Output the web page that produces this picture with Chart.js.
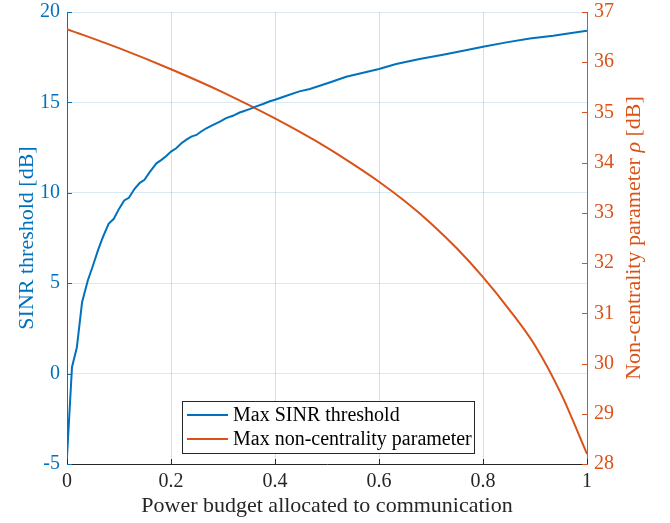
<!DOCTYPE html>
<html>
<head>
<meta charset="utf-8">
<script src="https://cdn.jsdelivr.net/npm/chart.js@4/dist/chart.umd.min.js"></script>
<style>
  body { margin: 0; background: #fff; }
  #wrap { width: 670px; height: 523px; }
</style>
</head>
<body>
<div id="wrap"><canvas id="chart" width="670" height="523"></canvas></div>
<script>
// power budget fraction (x) and max SINR threshold [dB]
const sinrX = [0, 0.0096, 0.019, 0.029, 0.04, 0.05, 0.06, 0.069, 0.08, 0.09, 0.1, 0.11, 0.119, 0.13, 0.14,
  0.149, 0.159, 0.172, 0.181, 0.191, 0.2, 0.21, 0.22, 0.229, 0.239, 0.249, 0.258, 0.268, 0.281, 0.294,
  0.306, 0.319, 0.332, 0.338, 0.351, 0.364, 0.377, 0.39, 0.4, 0.422, 0.447, 0.467, 0.505, 0.537, 0.6,
  0.633, 0.678, 0.723, 0.762, 0.8, 0.845, 0.89, 0.935, 0.967, 1.0];
const sinrY = [-4.6, 0.35, 1.46, 3.95, 5.15, 5.98, 6.86, 7.55, 8.28, 8.56, 9.11, 9.58, 9.72, 10.22, 10.55,
  10.72, 11.14, 11.63, 11.81, 12.04, 12.28, 12.46, 12.74, 12.93, 13.11, 13.2, 13.39, 13.57, 13.76, 13.94,
  14.13, 14.26, 14.44, 14.5, 14.63, 14.78, 14.91, 15.06, 15.15, 15.37, 15.61, 15.74, 16.1, 16.42, 16.85,
  17.12, 17.4, 17.64, 17.86, 18.08, 18.32, 18.54, 18.69, 18.82, 18.97];

// max non-centrality parameter rho [dB]
const rhoX = [0, 0.1, 0.2, 0.3, 0.4, 0.5, 0.55, 0.6, 0.65, 0.7, 0.75, 0.8, 0.85, 0.9, 0.95, 1.0];
const rhoY = [36.66, 36.28, 35.86, 35.4, 34.88, 34.3, 33.97, 33.62, 33.23, 32.79, 32.29, 31.72, 31.08, 30.36, 29.4, 28.2];

const xTicks = [0, 0.2, 0.4, 0.6, 0.8, 1];
const leftTicks = [-5, 0, 5, 10, 15, 20];
const rightTicks = [28, 29, 30, 31, 32, 33, 34, 35, 36, 37];

const BLUE = '#0072BD';
const ORANGE = '#D95319';
const DARK = '#262626';
const FONT = 'Liberation Serif';

const toPts = (xs, ys) => xs.map((x, i) => ({ x: x, y: ys[i] }));

// MATLAB style inward ticks, right axis title with italic rho, legend inside the axes
const matlabBits = {
  id: 'matlabBits',
  afterDraw(chart) {
    const ctx = chart.ctx;
    const a = chart.chartArea;
    const sx = chart.scales.x, sy = chart.scales.y, sy1 = chart.scales.y1;
    const len = 5;
    ctx.save();
    ctx.lineWidth = 1;
    ctx.strokeStyle = DARK;
    xTicks.forEach(v => {
      const px = Math.round(sx.getPixelForValue(v)) + 0.5;
      ctx.beginPath(); ctx.moveTo(px, a.bottom); ctx.lineTo(px, a.bottom - len); ctx.stroke();
    });
    ctx.strokeStyle = BLUE;
    leftTicks.forEach(v => {
      const py = Math.round(sy.getPixelForValue(v)) + 0.5;
      ctx.beginPath(); ctx.moveTo(a.left, py); ctx.lineTo(a.left + len, py); ctx.stroke();
    });
    ctx.strokeStyle = ORANGE;
    rightTicks.forEach(v => {
      const py = Math.round(sy1.getPixelForValue(v)) + 0.5;
      ctx.beginPath(); ctx.moveTo(a.right, py); ctx.lineTo(a.right - len, py); ctx.stroke();
    });

    // right axis title, reads bottom to top
    const parts = [
      { t: 'Non-centrality parameter ', f: '22px "' + FONT + '"' },
      { t: 'ρ', f: 'italic 22px "' + FONT + '"' },
      { t: ' [dB]', f: '22px "' + FONT + '"' }
    ];
    let total = 0;
    parts.forEach(p => { ctx.font = p.f; p.w = ctx.measureText(p.t).width; total += p.w; });
    ctx.translate(634, (a.top + a.bottom) / 2);
    ctx.rotate(-Math.PI / 2);
    ctx.fillStyle = ORANGE;
    ctx.textBaseline = 'middle';
    let cx = -total / 2;
    parts.forEach(p => { ctx.font = p.f; ctx.fillText(p.t, cx, 0); cx += p.w; });
    ctx.setTransform(1, 0, 0, 1, 0, 0);

    // legend
    const lx = 182, ly = 401, lw = 292, lh = 52;
    ctx.fillStyle = '#fff';
    ctx.fillRect(lx, ly, lw, lh);
    ctx.strokeStyle = DARK;
    ctx.lineWidth = 1;
    ctx.strokeRect(lx + 0.5, ly + 0.5, lw, lh);
    ctx.font = '20px "' + FONT + '"';
    ctx.textBaseline = 'middle';
    chart.data.datasets.forEach((ds, i) => {
      const y = ly + 14 + i * 24;
      ctx.strokeStyle = ds.borderColor;
      ctx.lineWidth = 2;
      ctx.beginPath(); ctx.moveTo(lx + 5, y); ctx.lineTo(lx + 46, y); ctx.stroke();
      ctx.fillStyle = '#000';
      ctx.fillText(ds.label, lx + 51, y + 1);
    });
    ctx.restore();
  }
};

const noVPad = (w) => s => { s.width = w; s.paddingTop = 0; s.paddingBottom = 0; };

new Chart(document.getElementById('chart'), {
  type: 'line',
  data: {
    datasets: [{
      label: 'Max SINR threshold',
      data: toPts(sinrX, sinrY),
      yAxisID: 'y',
      borderColor: BLUE,
      backgroundColor: BLUE,
      borderWidth: 2,
      pointRadius: 0,
      tension: 0
    }, {
      label: 'Max non-centrality parameter',
      data: toPts(rhoX, rhoY),
      yAxisID: 'y1',
      borderColor: ORANGE,
      backgroundColor: ORANGE,
      borderWidth: 2,
      pointRadius: 0,
      cubicInterpolationMode: 'monotone'
    }]
  },
  options: {
    responsive: false,
    animation: false,
    devicePixelRatio: 1,
    layout: { padding: { top: 12, left: 0, right: 0, bottom: 0 } },
    plugins: {
      legend: { display: false },
      tooltip: { enabled: false }
    },
    scales: {
      x: {
        type: 'linear',
        min: 0, max: 1,
        afterBuildTicks: s => { s.ticks = xTicks.map(v => ({ value: v })); },
        afterFit: s => { s.height = 59; },
        border: { color: DARK, width: 1 },
        grid: { color: 'rgba(38,38,38,0.15)', drawTicks: false },
        ticks: {
          color: DARK, padding: 6,
          font: { family: FONT, size: 20 },
          callback: v => String(v)
        },
        title: {
          display: true, text: 'Power budget allocated to communication',
          color: DARK, font: { family: FONT, size: 22 }, padding: { top: 3 }
        }
      },
      y: {
        position: 'left',
        min: -5, max: 20,
        afterBuildTicks: s => { s.ticks = leftTicks.map(v => ({ value: v })); },
        afterFit: noVPad(67),
        border: { color: BLUE, width: 1 },
        grid: { color: 'rgba(0,114,189,0.15)', drawTicks: false },
        ticks: { color: BLUE, padding: 7, font: { family: FONT, size: 20 } },
        title: {
          display: true, text: 'SINR threshold [dB]',
          color: BLUE, font: { family: FONT, size: 22 }, padding: { top: 14, bottom: 0 }
        }
      },
      y1: {
        position: 'right',
        min: 28, max: 37,
        afterBuildTicks: s => { s.ticks = rightTicks.map(v => ({ value: v })); },
        afterFit: noVPad(83),
        border: { color: ORANGE, width: 1 },
        grid: { drawOnChartArea: false, drawTicks: false },
        ticks: { color: ORANGE, padding: 7, font: { family: FONT, size: 20 } }
      }
    }
  },
  plugins: [matlabBits]
});
</script>
</body>
</html>
